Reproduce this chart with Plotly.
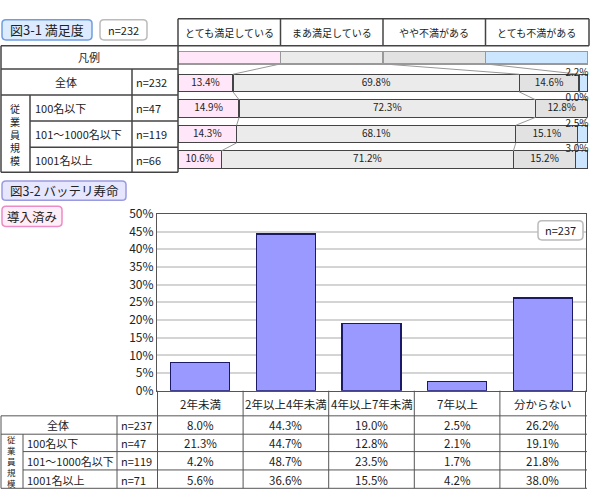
import plotly.graph_objects as go

FONT = 'Noto Sans CJK JP'
W, H = 590, 504
TXT = '#222222'

# ---- 図3-1 満足度 ----
sat_title = '図3-1 満足度'
sat_total_n = 'n=232'
sat_categories = ['とても満足している', 'まあ満足している', 'やや不満がある', 'とても不満がある']
sat_groups = ['全体', '100名以下', '101〜1000名以下', '1001名以上']
sat_group_n = ['n=232', 'n=47', 'n=119', 'n=66']
sat_very_satisfied = [13.4, 14.9, 14.3, 10.6]
sat_fairly_satisfied = [69.8, 72.3, 68.1, 71.2]
sat_somewhat_unhappy = [14.6, 12.8, 15.1, 15.2]
sat_very_unhappy = [2.2, 0.0, 2.5, 3.0]
legend_share = 25  # 凡例バーは4等分

# ---- 図3-2 バッテリ寿命 ----
bat_title = '図3-2 バッテリ寿命'
bat_subtitle = '導入済み'
bat_total_n = 'n=237'
bat_categories = ['2年未満', '2年以上4年未満', '4年以上7年未満', '7年以上', '分からない']
bat_groups = ['全体', '100名以下', '101〜1000名以下', '1001名以上']
bat_group_n = ['n=237', 'n=47', 'n=119', 'n=71']
bat_all = [8.0, 44.3, 19.0, 2.5, 26.2]
bat_le100 = [21.3, 44.7, 12.8, 2.1, 19.1]
bat_101_1000 = [4.2, 48.7, 23.5, 1.7, 21.8]
bat_ge1001 = [5.6, 36.6, 15.5, 4.2, 38.0]
bat_ticks = [0, 5, 10, 15, 20, 25, 30, 35, 40, 45, 50]
bat_tick_labels = ['0%', '5%', '10%', '15%', '20%', '25%', '30%', '35%', '40%', '45%', '50%']

size_label = '従業員規模'


def X(px):
    return px / W


def Y(py):
    return 1 - py / H


shapes = []
annotations = []


def line(x0, y0, x1, y1, color='#444444', width=1.5, xref='paper'):
    xx0, xx1 = (X(x0), X(x1)) if xref == 'paper' else (x0, x1)
    shapes.append(dict(type='line', xref=xref, yref='paper', x0=xx0, x1=xx1,
                       y0=Y(y0), y1=Y(y1), line=dict(color=color, width=width)))


def rbox(x0, y0, x1, y1, fill, border, r=4, width=1.5):
    pts = [
        ('M', x0 + r, y0), ('L', x1 - r, y0), ('Q', x1, y0, x1, y0 + r),
        ('L', x1, y1 - r), ('Q', x1, y1, x1 - r, y1), ('L', x0 + r, y1),
        ('Q', x0, y1, x0, y1 - r), ('L', x0, y0 + r), ('Q', x0, y0, x0 + r, y0),
    ]
    path = ''
    for p in pts:
        cmd, vals = p[0], p[1:]
        coords = []
        for i in range(0, len(vals), 2):
            coords.append(f'{X(vals[i]):.5f},{Y(vals[i + 1]):.5f}')
        path += cmd + ' '.join(coords) + ' '
    shapes.append(dict(type='path', xref='paper', yref='paper', path=path + 'Z',
                       fillcolor=fill, line=dict(color=border, width=width)))


def text(x, y, s, size=11, anchor='center', xref='paper'):
    annotations.append(dict(xref=xref, yref='paper', x=X(x) if xref == 'paper' else x,
                            y=Y(y), text=s, showarrow=False, xanchor=anchor,
                            yanchor='middle', font=dict(size=size, color=TXT, family=FONT)))


fig = go.Figure()

# ================= 図3-1 積み上げ横棒 =================
sat_series = [sat_very_satisfied, sat_fairly_satisfied, sat_somewhat_unhappy, sat_very_unhappy]
sat_colors = ['#ffe6f8', '#ebebeb', '#e2e2e2', '#cce6ff']
n_rows = len(sat_groups) + 1
row_idx = list(range(n_rows))
widths = [0.5] + [0.69] * len(sat_groups)

for j, ser in enumerate(sat_series):
    fig.add_trace(go.Bar(
        y=row_idx, x=[legend_share] + ser, orientation='h', width=widths,
        marker=dict(color=sat_colors[j],
                    line=dict(color=['#999999'] + ['#444444'] * len(ser), width=1.2)),
        xaxis='x', yaxis='y', hoverinfo='skip'))

# 区分線 (series lines)
cums = []
for i in range(n_rows):
    vals = [legend_share] * 4 if i == 0 else [s[i - 1] for s in sat_series]
    c, acc = [], 0
    for v in vals:
        acc += v
        c.append(acc)
    cums.append(c)
lx, ly = [], []
for k in range(3):
    for i in range(n_rows - 1):
        lx += [cums[i][k], cums[i + 1][k], None]
        ly += [i + widths[i] / 2, i + 1 - widths[i + 1] / 2, None]
fig.add_trace(go.Scatter(x=lx, y=ly, mode='lines', line=dict(color='#999999', width=1),
                         xaxis='x', yaxis='y', hoverinfo='skip'))

# データラベル
tx, ty, tt = [], [], []
for i in range(1, n_rows):
    for k in range(3):
        v = sat_series[k][i - 1]
        tx.append(cums[i][k] - v / 2)
        ty.append(i)
        tt.append(f'{v:.1f}%')
fig.add_trace(go.Scatter(x=tx, y=ty, text=tt, mode='text', cliponaxis=False,
                         textfont=dict(size=10, color=TXT, family=FONT),
                         xaxis='x', yaxis='y', hoverinfo='skip'))
# 「とても不満がある」はバー右上に表示
fig.add_trace(go.Scatter(
    x=[97.3] * len(sat_very_unhappy), y=[i - 0.39 for i in range(1, n_rows)],
    text=[f'{v:.1f}%' for v in sat_very_unhappy], mode='text', cliponaxis=False,
    textfont=dict(size=10, color=TXT, family=FONT), xaxis='x', yaxis='y', hoverinfo='skip'))

# ================= 図3-2 棒グラフ =================
fig.add_trace(go.Bar(
    x=bat_categories, y=bat_all, marker=dict(color='#9999ff', line=dict(color='#1a1a66', width=1.2)),
    xaxis='x2', yaxis='y2', hoverinfo='skip'))

# ---- タイトル枠 ----
rbox(2, 10, 92, 31, '#dcebff', '#6f9ee0')
text(47, 20.5, sat_title, size=13)
rbox(100, 10, 147, 31, '#ffffff', '#bbbbbb')
text(123.5, 20.5, sat_total_n, size=11)

rbox(2, 177, 126, 197, '#e6e6ff', '#9a9ae0')
text(64, 187, bat_title, size=12.5)
rbox(2, 203, 62, 224, '#ffeef8', '#ec8cc4')
text(32, 213.5, bat_subtitle, size=12.5)
rbox(538, 218, 583, 238, '#ffffff', '#bbbbbb')
text(560.5, 228, bat_total_n, size=11)

# ---- 図3-1 表 ----
line(178, 9, 589, 9)
line(178, 37, 589, 37)
line(178, 9, 178, 37)
line(589, 9, 589, 37)
for k in range(1, 4):
    line(legend_share * k, 9, legend_share * k, 37, xref='x')
for k, c in enumerate(sat_categories):
    text(legend_share * (k + 0.5), 23.5, c, size=10, xref='x')

top_rows = [37, 61, 88, 115, 142, 168]
line(1, 37, 178, 37)
line(1, 61, 178, 61)
line(1, 88, 178, 88)
line(30, 115, 178, 115)
line(30, 142, 178, 142)
line(1, 168, 178, 168)
line(1, 37, 1, 168)
line(178, 37, 178, 168)
line(132, 61, 132, 168)
line(30, 88, 30, 168)
text(89, 49, '凡例', size=11)
text(66, 74.5, sat_groups[0], size=11)
for i in range(len(sat_groups)):
    yc = (top_rows[i + 1] + top_rows[i + 2]) / 2
    if i > 0:
        text(33, yc, sat_groups[i], size=11, anchor='left')
    text(134, yc, sat_group_n[i], size=11, anchor='left')
text(15, 129, '<br>'.join(size_label), size=10)

# ---- 図3-2 表 ----
bot_rows = [394, 420, 439, 457, 476, 495]
GC = '#555555'
for k in range(len(bat_categories) + 1):
    line(k - 0.5, 394, k - 0.5, 495, color=GC, width=1, xref='x2')
line(1, 420, 587, 420, color=GC, width=1)
line(1, 439, 587, 439, color=GC, width=1)
line(23, 457, 587, 457, color=GC, width=1)
line(23, 476, 587, 476, color=GC, width=1)
line(1, 495, 587, 495, color=GC, width=1)
line(1, 420, 1, 495, color=GC, width=1)
line(23, 439, 23, 495, color=GC, width=1)
line(117, 420, 117, 495, color=GC, width=1)
for k, c in enumerate(bat_categories):
    text(k, 408, c, size=11.5, xref='x2')
bat_table = [bat_all, bat_le100, bat_101_1000, bat_ge1001]
for i, g in enumerate(bat_groups):
    yc = (bot_rows[i + 1] + bot_rows[i + 2]) / 2 + 0.5
    if i == 0:
        text(58, yc, g, size=11)
    else:
        text(25, yc, g, size=11, anchor='left')
    text(119, yc, bat_group_n[i], size=11, anchor='left')
    for k, v in enumerate(bat_table[i]):
        text(k, yc, f'{v:.1f}%', size=11.5, xref='x2')
text(11.5, 467, '<br>'.join(size_label), size=8.5)

fig.update_layout(
    width=W, height=H, margin=dict(l=0, r=0, t=0, b=0),
    paper_bgcolor='white', plot_bgcolor='white', showlegend=False,
    barmode='stack', bargap=0.31,
    xaxis=dict(domain=[X(178), X(588)], range=[0, 100], visible=False, fixedrange=True),
    yaxis=dict(domain=[Y(168), Y(36)], range=[n_rows - 0.5, -0.5], visible=False, fixedrange=True),
    xaxis2=dict(domain=[X(157), X(586)], anchor='y2', showticklabels=False, ticks='',
                showline=True, linecolor='#555555', linewidth=1.2, mirror=True,
                showgrid=False, fixedrange=True),
    yaxis2=dict(domain=[Y(394), Y(211)], anchor='x2', range=[0, 50],
                tickvals=bat_ticks, ticktext=bat_tick_labels,
                tickfont=dict(size=12, color=TXT, family=FONT),
                showline=True, linecolor='#555555', linewidth=1.2, mirror=True,
                gridcolor='#d4d4d4', gridwidth=1.5, zeroline=False, fixedrange=True),
    shapes=shapes, annotations=annotations,
    font=dict(family=FONT, color=TXT),
)

# ページ余白を消して 590x504 にぴったり収める
fig.write_html('out.html', config={'displayModeBar': False},
               post_script="document.body.style.margin='0';")
